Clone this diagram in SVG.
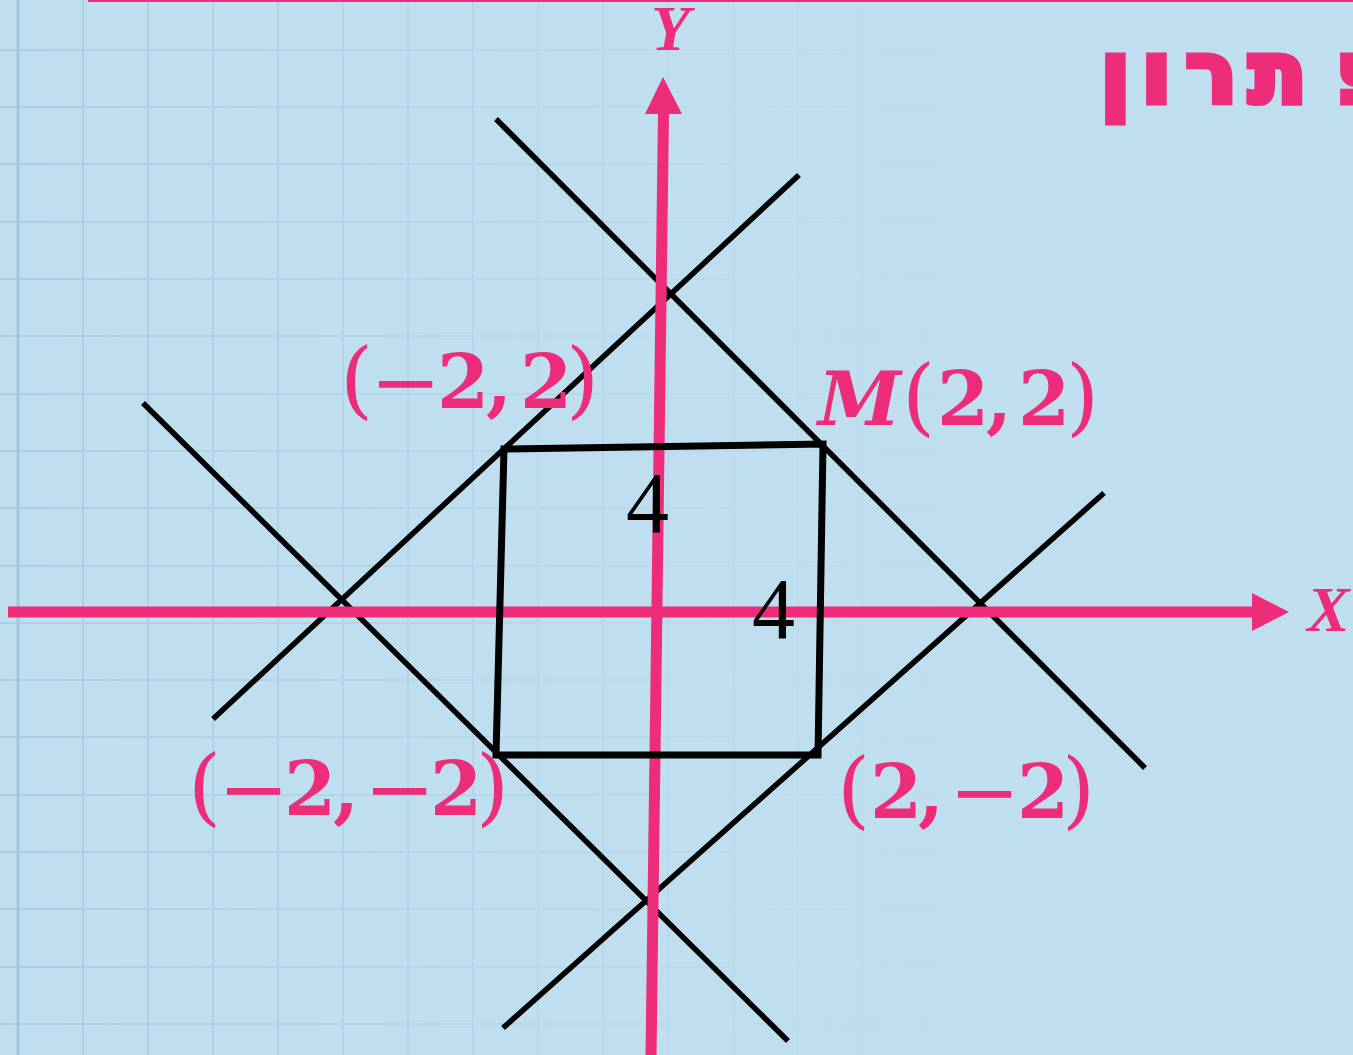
<svg xmlns="http://www.w3.org/2000/svg" width="1353" height="1055" viewBox="0 0 1353 1055">
<style>
.pink{fill:#EE2D7A}
.axis{stroke:#EE2D7A;stroke-width:11;fill:none}
.ln{stroke:#000;stroke-width:5.5;fill:none;stroke-linecap:butt}
.sq{stroke:#000;stroke-width:7;fill:none;stroke-linejoin:miter}
.lbl{fill:#EE2D7A;font-family:"DejaVu Serif",serif;font-weight:bold;font-size:75px}
.par{font-weight:normal;font-size:85px}
.mn{font-weight:normal;font-size:85px}
.it{font-style:italic}
.ax{fill:#EE2D7A;font-family:"Liberation Serif",serif;font-weight:bold;font-style:italic;font-size:64px}
.four{fill:#000;font-family:"Liberation Serif",serif;font-size:86px}
.title{fill:#EE2D7A;stroke:#EE2D7A;stroke-width:7;stroke-linejoin:miter;font-family:"DejaVu Sans",sans-serif;font-weight:bold;font-size:84px}
.grid{stroke:#A9CEE3;stroke-width:2;fill:none}
</style>
<defs>
<linearGradient id="fade" x1="0" y1="0" x2="950" y2="0" gradientUnits="userSpaceOnUse">
<stop offset="0" stop-color="#fff" stop-opacity="1"/>
<stop offset="0.4" stop-color="#fff" stop-opacity="0.6"/>
<stop offset="1" stop-color="#fff" stop-opacity="0"/>
</linearGradient>
<mask id="gm" maskUnits="userSpaceOnUse" x="0" y="0" width="1353" height="1055">
<rect x="0" y="0" width="1353" height="1055" fill="url(#fade)"/>
</mask>
</defs>
<rect id="background" x="0" y="0" width="1353" height="1055" fill="#BFDFF0"/>
<g id="grid" mask="url(#gm)">
<path class="grid" d="M83 0V1055M148 0V1055M213 0V1055M278 0V1055M343 0V1055M408 0V1055M473 0V1055M538 0V1055M603 0V1055M668 0V1055M733 0V1055M798 0V1055M863 0V1055M928 0V1055"/>
<path class="grid" d="M0 50H950M0 107H950M0 164H950M0 222H950M0 279H950M0 336H950M0 394H950M0 451H950M0 508H950M0 566H950M0 623H950M0 680H950M0 737H950M0 795H950M0 852H950M0 909H950M0 967H950M0 1024H950"/>
<path d="M18 0V1055" stroke="#9EC7DD" stroke-width="3"/>
</g>
<rect id="top-rule" x="88" y="0" width="1265" height="2" class="pink"/>
<g id="title"><text class="title" x="1336 1249 1186 1142 1101 1400" y="102">פתרון:</text></g>
<g id="connectors">
<line class="ln" x1="496" y1="119" x2="1145" y2="768"/>
<line class="ln" x1="799" y1="175" x2="213" y2="719"/>
<line class="ln" x1="143" y1="403" x2="788" y2="1041"/>
<line class="ln" x1="1104" y1="493" x2="503" y2="1028"/>
</g>
<g id="x-axis">
<line class="axis" x1="8" y1="612" x2="1254" y2="612"/>
<polygon class="pink" points="1252,593 1289,612 1252,631"/>
<text class="ax" x="1307" y="631">X</text>
</g>
<g id="y-axis">
<line class="axis" x1="663.5" y1="112" x2="651" y2="1056"/>
<polygon class="pink" points="663,77 682,114 645,114"/>
<text class="ax" x="651" y="50">Y</text>
</g>
<g id="square">
<polygon class="sq" points="504,449 823,444 818,755 496,755"/>
</g>
<g id="side-top"><text class="four" x="626" y="532">4</text></g>
<g id="side-right"><text class="four" x="752" y="638">4</text></g>
<g id="point-nw">
<text class="lbl" y="408"><tspan class="par" x="340">(</tspan><tspan class="mn" x="370" y="411">−</tspan><tspan x="437" y="408">2</tspan><tspan x="486">,</tspan><tspan x="520">2</tspan><tspan class="par" x="566">)</tspan></text>
</g>
<g id="point-M">
<text class="lbl" y="425"><tspan class="it" x="818">M</tspan><tspan class="par" x="902">(</tspan><tspan x="937">2</tspan><tspan x="986">,</tspan><tspan x="1018">2</tspan><tspan class="par" x="1066">)</tspan></text>
</g>
<g id="point-sw">
<text class="lbl" y="815"><tspan class="par" x="188">(</tspan><tspan class="mn" x="218" y="818">−</tspan><tspan x="284" y="815">2</tspan><tspan x="333">,</tspan><tspan class="mn" x="364" y="818">−</tspan><tspan x="430" y="815">2</tspan><tspan class="par" x="476">)</tspan></text>
</g>
<g id="point-se">
<text class="lbl" y="818"><tspan class="par" x="837">(</tspan><tspan x="870">2</tspan><tspan x="918">,</tspan><tspan class="mn" x="949" y="821">−</tspan><tspan x="1017" y="818">2</tspan><tspan class="par" x="1062">)</tspan></text>
</g>
</svg>
